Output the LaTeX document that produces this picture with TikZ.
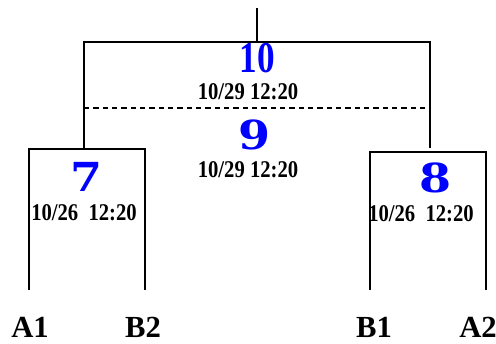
\documentclass[tikz,border=0pt]{standalone}
\usepackage{fontspec}
\setmainfont{Liberation Serif}
\newfontfamily\bigdigits{DejaVu Serif}

\tikzset{
    branch/.style={line width=1.1pt},
    cutline/.style={line width=1pt, dash pattern=on 4pt off 3pt},
    clusternum/.style={inner sep=0pt, text=blue, font=\bigdigits\fontsize{30pt}{30pt}\selectfont\bfseries, xscale=1.15},
    topnum/.style={inner sep=0pt, text=blue, font=\fontsize{33pt}{33pt}\selectfont\bfseries, xscale=0.8},
    stamp/.style={inner sep=0pt, font=\fontsize{18pt}{18pt}\selectfont\bfseries, xscale=0.86},
    leaf/.style={inner sep=0pt, font=\fontsize{23pt}{23pt}\selectfont\bfseries}
}

\begin{document}
\begin{tikzpicture}[x=0.75pt, y=-0.75pt]
    \useasboundingbox (0,0) rectangle (496,343);

    % Leaf labels
    \node[leaf] (A1) at (30, 327) {A1};
    \node[leaf] (B2) at (143, 327) {B2};
    \node[leaf] (B1) at (374, 327) {B1};
    \node[leaf] (A2) at (478, 327) {A2};

    % Ends of the leaf lines
    \coordinate (A1end) at (29, 290);
    \coordinate (B2end) at (145, 290);
    \coordinate (B1end) at (370, 290);
    \coordinate (A2end) at (486, 290);

    % Cluster 7 (A1, B2)
    \coordinate (c7l) at (29, 149);
    \coordinate (c7r) at (145, 149);
    \coordinate (c7m) at (84, 149);
    \draw[branch] (A1end) -- (c7l) -- (c7r) -- (B2end);
    \node[clusternum] (n7) at (87, 177) {7};
    \node[stamp] (t7) at (84, 213) {10/26\ \ 12:20};

    % Cluster 8 (B1, A2)
    \coordinate (c8l) at (370, 152);
    \coordinate (c8r) at (486, 152);
    \draw[branch] (B1end) -- (c8l) -- (c8r) -- (A2end);
    \node[clusternum] (n8) at (435, 178) {8};
    \node[stamp] (t8) at (421, 214) {10/26\ \ 12:20};

    % Cluster 10 (joins 7 and 8)
    \coordinate (c10l) at (84, 42);
    \coordinate (c10r) at (430, 42);
    \coordinate (c8m) at (430, 148);
    \coordinate (root) at (257, 42);
    \coordinate (stem) at (257, 8);
    \draw[branch] (c7m) -- (c10l) -- (c10r) -- (c8m);
    \draw[branch] (root) -- (stem);
    \node[topnum] (n10) at (257, 58) {10};
    \node[stamp] (t10) at (248, 92) {10/29 12:20};

    % Cluster 9 (cut level)
    \coordinate (cutl) at (84, 108);
    \coordinate (cutr) at (430, 108);
    \draw[cutline] (cutl) -- (cutr);
    \node[clusternum] (n9) at (255, 135) {9};
    \node[stamp] (t9) at (248, 170) {10/29 12:20};
\end{tikzpicture}
\end{document}
